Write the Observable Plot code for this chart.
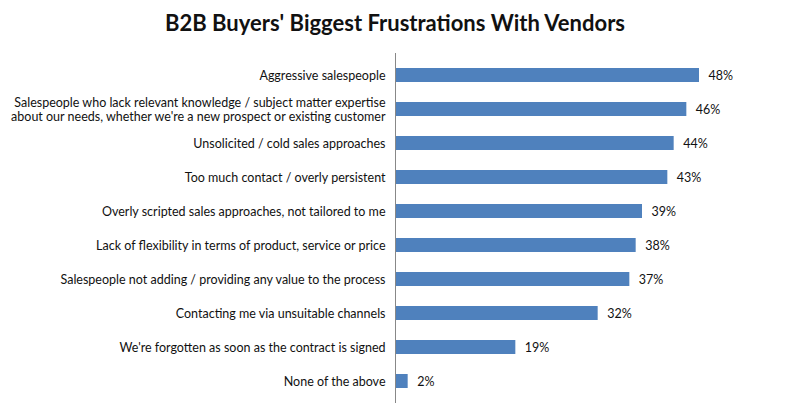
<!DOCTYPE html>
<html>
<head>
<meta charset="utf-8">
<script src="https://cdn.jsdelivr.net/npm/d3@7"></script>
<script src="https://cdn.jsdelivr.net/npm/@observablehq/plot@0.6"></script>
<style>
  html, body { margin: 0; padding: 0; background: #fff; }
  #title { height: 44px; line-height: 46px; text-align: center; font-family: Lato, "Open Sans", sans-serif; font-weight: bold; font-size: 22px; color: #111; width: 790px; }
  #chart svg { display: block; }
</style>
</head>
<body>
<div id="title">B2B Buyers' Biggest Frustrations With Vendors</div>
<div id="chart"></div>
<script>
const categories = [
  "Aggressive salespeople",
  "Salespeople who lack relevant knowledge / subject matter expertise\nabout our needs, whether we're a new prospect or existing customer",
  "Unsolicited / cold sales approaches",
  "Too much contact / overly persistent",
  "Overly scripted sales approaches, not tailored to me",
  "Lack of flexibility in terms of product, service or price",
  "Salespeople not adding / providing any value to the process",
  "Contacting me via unsuitable channels",
  "We're forgotten as soon as the contract is signed",
  "None of the above"
];
const values = [48, 46, 44, 43, 39, 38, 37, 32, 19, 2];
const valueLabels = ["48%", "46%", "44%", "43%", "39%", "38%", "37%", "32%", "19%", "2%"];

const data = categories.map((c, i) => ({category: c, value: values[i], label: valueLabels[i]}));

const chart = Plot.plot({
  width: 790,
  height: 372,
  marginLeft: 395,
  marginRight: 15,
  marginTop: 11,
  marginBottom: 15,
  style: {fontFamily: "Lato, 'Open Sans', sans-serif", fontSize: "12.5px", color: "#111"},
  x: {domain: [0, 60], axis: null},
  y: {domain: categories, paddingInner: 0.6, paddingOuter: 0.3, label: null},
  marks: [
    Plot.barX(data, {y: "category", x: "value", fill: "#4F81BD"}),
    Plot.text(data, {y: "category", x: "value", text: "label", textAnchor: "start", dx: 9, fill: "#111", fontSize: 12.5}),
    Plot.axisY({tickSize: 0, tickPadding: 10, label: null, fontSize: 12.5, lineHeight: 1.15}),
    Plot.ruleX([0], {stroke: "#888", insetTop: -2, insetBottom: -2})
  ]
});
document.getElementById("chart").appendChild(chart);
</script>
</body>
</html>
